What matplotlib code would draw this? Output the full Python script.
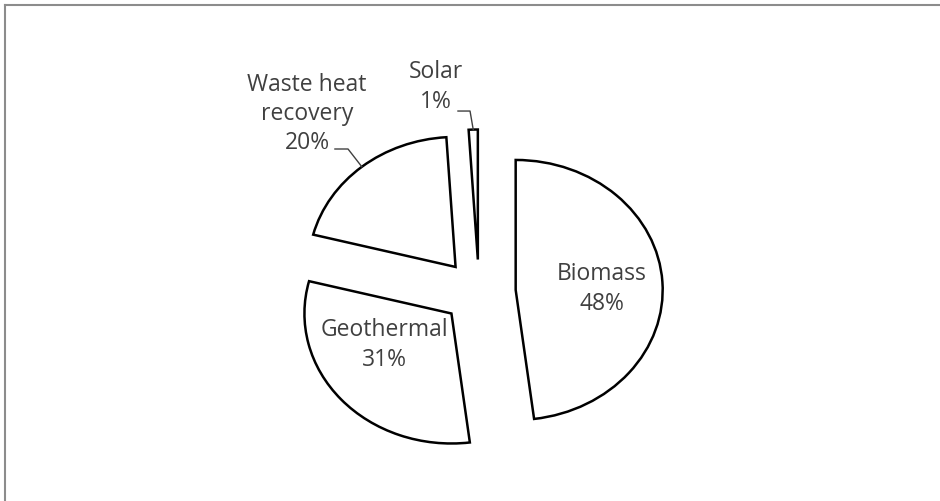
import matplotlib
import matplotlib.pyplot as plt
from matplotlib.lines import Line2D
import numpy as np

matplotlib.use("Agg")

# Data
sources = ["Biomass", "Geothermal", "Waste heat\nrecovery", "Solar"]
shares = [48, 31, 20, 1]

# Layout (data units: 1 = pie radius)
explode = [0.25, 0.25, 0.25, 0.25]
inside_label_xy = {0: (0.837, 0.023), 1: (-0.646, -0.408)}
outside_label_xy = {2: (-1.17, 1.369), 3: (-0.293, 1.577)}
leader_elbow = {2: [(-0.980, 1.100), (-0.891, 1.100)], 3: [(-0.143, 1.392), (-0.061, 1.392)]}

W, H = 940, 501
cx_px, cy_px = 479, 292
rx_px, ry_px = 147, 130
text_color = "#404040"

fig = plt.figure(figsize=(W / 100, H / 100), dpi=100)
ax = fig.add_axes([0, 0, 1, 1])

wedges, _ = ax.pie(
    shares,
    explode=explode,
    startangle=90,
    counterclock=False,
    wedgeprops={"facecolor": "white", "edgecolor": "black", "linewidth": 1.8},
)

ax.set_aspect("auto")
ax.set_xlim(-cx_px / rx_px, (W - cx_px) / rx_px)
ax.set_ylim(-(H - cy_px) / ry_px, cy_px / ry_px)
ax.axis("off")

font = {"family": ["Open Sans", "DejaVu Sans"], "size": 16.5, "color": text_color}

for i, w in enumerate(wedges):
    label = f"{sources[i]}\n{shares[i]}%"
    if i in inside_label_xy:
        x, y = inside_label_xy[i]
        ax.text(x, y, label, ha="center", va="center", linespacing=1.3, **font)
    else:
        x, y = outside_label_xy[i]
        ax.text(x, y, label, ha="center", va="center", linespacing=1.3, **font)
        # leader line to the middle of the wedge's arc
        mid = np.deg2rad((w.theta1 + w.theta2) / 2)
        ox, oy = w.center
        end = (ox + w.r * np.cos(mid), oy + w.r * np.sin(mid))
        pts = leader_elbow[i] + [end]
        ax.plot([p[0] for p in pts], [p[1] for p in pts], color="#404040", lw=1.0)

# frame of the original chart (only top and left edges are visible)
fig.add_artist(Line2D([5 / W, 1], [1 - 5 / H, 1 - 5 / H], color="#8c8c8c", lw=1.5))
fig.add_artist(Line2D([5 / W, 5 / W], [0, 1 - 5 / H], color="#8c8c8c", lw=1.5))

fig.savefig("out.png", dpi=100)
plt.close(fig)
